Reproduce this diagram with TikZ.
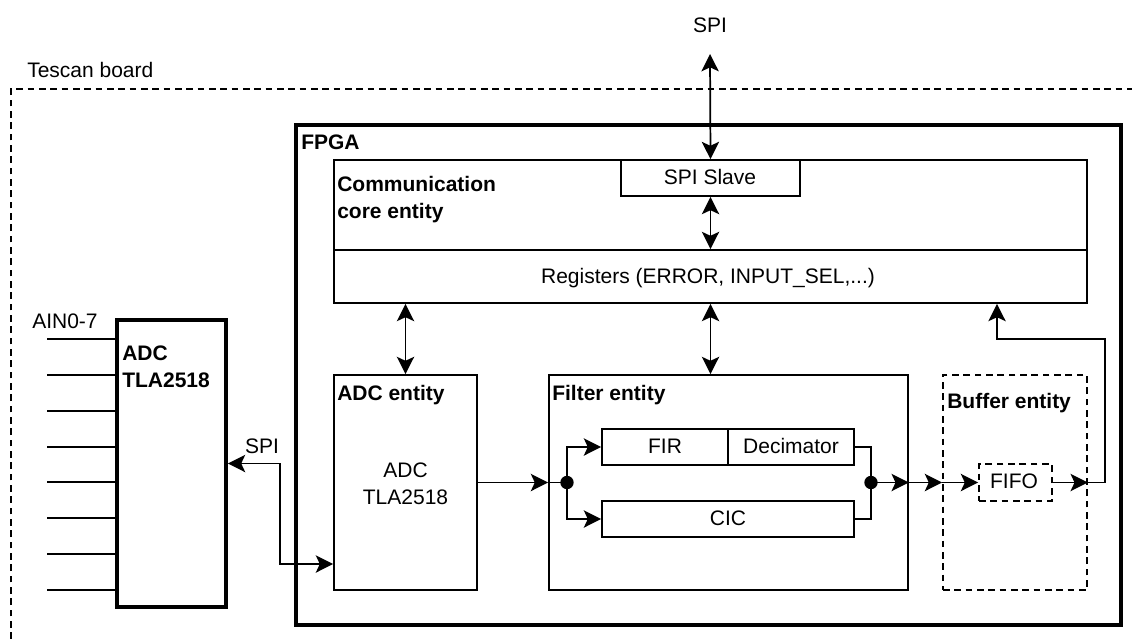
\documentclass[tikz,border=0pt]{standalone}
\usepackage{fontspec}
\setmainfont{Liberation Sans}
\usetikzlibrary{arrows.meta,fit}
\tikzset{
  f/.style={font=\fontsize{15.75}{18.9}\selectfont},
  fb/.style={font=\fontsize{15.75}{18.9}\selectfont\bfseries},
  txt/.style={f, anchor=base, inner sep=0pt},
  lbl/.style={fb, anchor=base west, inner sep=0pt},
  plbl/.style={f, anchor=base west, inner sep=0pt},
  box/.style={draw, line width=1.3pt, inner sep=0pt},
  thickbox/.style={draw, line width=2.8pt, inner sep=0pt},
  dbox/.style={draw, line width=1.3pt, dash pattern=on 5pt off 3.5pt, inner sep=0pt},
  wire/.style={line width=1.3pt},
  conn/.style={wire, -{Stealth[length=13pt,width=13pt,inset=3pt]}},
  bi/.style={wire, {Stealth[length=13pt,width=13pt,inset=3pt]}-{Stealth[length=13pt,width=13pt,inset=3pt]}},
  jdot/.style={circle, fill, inner sep=0pt, minimum size=10pt},
}
\begin{document}
\begin{tikzpicture}[x=0.75pt,y=-0.75pt]
\useasboundingbox (0,0) rectangle (1132,639);
% Tescan board
\coordinate (tbl) at (11,639);
\coordinate (ttl) at (11,89);
\coordinate (ttr) at (1132,89);
\draw[line width=1pt, dash pattern=on 5pt off 3.5pt] (tbl) -- (ttl) -- (ttr);
\node[plbl] (tescan) at (27,77) {Tescan board};
% FPGA
\node[thickbox, fit={(296,125) (1121,625)}] (fpga) {};
\node[lbl] (fpgaT) at (301,149) {FPGA};
% Communication core
\node[box, fit={(334,160) (1087,250)}] (comm) {};
\node[box, fit={(334,250) (1087,303)}] (regs) {};
\node[lbl] (commT1) at (337,191) {Communication};
\node[lbl] (commT2) at (337,218) {core entity};
\node[box, fill=white, fit={(621,160) (800,196)}] (spis) {};
\node[txt] (spisT) at (710,184) {SPI Slave};
\node[txt] (regsT) at (708,283) {Registers (ERROR, INPUT\_SEL,...)};
% top SPI
\node[txt] (spiT) at (710,32) {SPI};
\coordinate (spiend) at (710,54);
\draw[bi] (spiend) -- (spis.north);
\draw[bi] (spis.south) -- (spis.south |- regs.north);
% entities
\node[box, fit={(334,375) (477,590)}] (adce) {};
\node[lbl] (adceT) at (337,400) {ADC entity};
\node[txt] (adceT1) at (405.5,477) {ADC};
\node[txt] (adceT2) at (405.5,504) {TLA2518};
\node[box, fit={(549,375) (908,590)}] (filt) {};
\node[lbl] (filtT) at (552,400) {Filter entity};
\node[dbox, fit={(943,375) (1087,590)}] (buf) {};
\node[lbl] (bufT) at (947,408) {Buffer entity};
\draw[bi] (regs.south -| adce.north) -- (adce.north);
\draw[bi] (regs.south -| spis.south) -- (spis.south |- filt.north);
% filter internals
\node[box, fit={(602,429) (728,465)}] (fir) {};
\node[box, fit={(728,429) (854,465)}] (dec) {};
\node[box, fit={(602,501) (854,537)}] (cic) {};
\node[txt] (firT) at (665,453) {FIR};
\node[txt] (decT) at (791,453) {Decimator};
\node[txt] (cicT) at (728,525) {CIC};
\draw[conn] (adce.east) -- (filt.west);
\coordinate (jlc) at (567,482.5);
\coordinate (jrc) at (871,482.5);
\draw[wire] (filt.west) -- (jlc);
\draw[conn] (jlc) |- (fir.west);
\draw[conn] (jlc) |- (cic.west);
\draw[wire] (dec.east) -| (jrc);
\draw[wire] (cic.east) -| (jrc);
\draw[conn] (jrc) -- (filt.east);
\draw[conn] (filt.east) -- (buf.west);
\node[jdot] (jl) at (jlc) {};
\node[jdot] (jr) at (jrc) {};
% buffer
\node[dbox, fit={(979,464) (1052,501)}] (fifo) {};
\node[txt] (fifoT) at (1014,488) {FIFO};
\draw[conn] (buf.west) -- (fifo.west);
\draw[conn] (fifo.east) -- (buf.east);
\coordinate (fb1) at (1105,339);
\coordinate (fb2) at (997,339);
\draw[conn] (buf.east) -| (fb1) -- (fb2) -- (fb2 |- regs.south);
% external ADC chip
\node[thickbox, fit={(117,320) (226,607)}] (chip) {};
\node[lbl] (chipT1) at (122,360) {ADC};
\node[lbl] (chipT2) at (122,387) {TLA2518};
\node[plbl] (ainT) at (32,328) {AIN0-7};
\foreach \yy [count=\i] in {339,375,411,447,482,518,554,590} {
  \coordinate (ain\i) at (47,\yy);
  \draw[wire] (ain\i) -- (ain\i -| chip.west);
}
\node[txt] (spiL) at (262,453) {SPI};
\coordinate (sk) at (280,564);
\draw[bi] (chip.east) -| (sk) -- (sk -| adce.west);
\end{tikzpicture}
\end{document}
